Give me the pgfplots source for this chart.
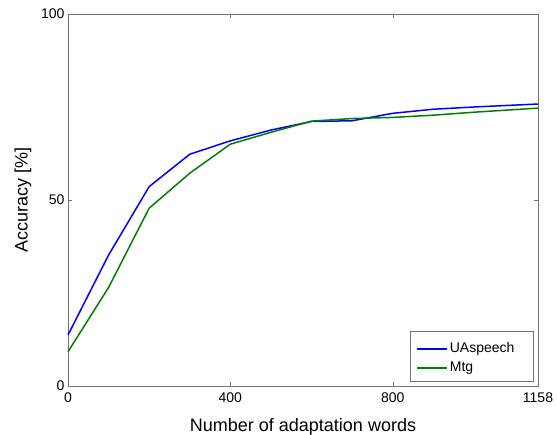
\documentclass[border=0pt]{standalone}
\usepackage{pgfplots}
\pgfplotsset{compat=1.18}
\usepackage{fontspec}
\setmainfont{Liberation Sans}
\definecolor{mgreen}{rgb}{0,0.5,0}
\begin{document}
\begin{tikzpicture}
\path[use as bounding box] (-68pt,-48pt) rectangle (489pt,386pt);
\begin{axis}[scale only axis,width=470pt,height=372pt,
  xmin=0,xmax=1158,ymin=0,ymax=100,
  xtick={0,400,800,1158},ytick={0,50,100},
  tick align=inside,major tick length=4pt,
  axis line style={black!55},tick style={black!55},
  tick label style={font=\fontsize{14}{16}\selectfont},
  /pgf/number format/assume math mode=true,
  /pgf/number format/1000 sep={},
  xticklabel style={yshift=-3pt},
  xlabel={Number of adaptation words},ylabel={Accuracy [\%]},
  label style={font=\fontsize{18}{20}\selectfont},
  xlabel style={yshift=-9pt},ylabel style={yshift=3pt},
  clip=false]
\addplot[draw=blue,line width=1.5pt] coordinates {(0,13.7) (100,35.2) (200,53.6) (300,62.3) (400,65.9) (500,68.8) (600,71.1) (700,71.3) (800,73.3) (900,74.4) (1000,75.0) (1158,75.8)};
\addplot[draw=mgreen,line width=1.5pt] coordinates {(0,9.2) (100,26.5) (200,47.8) (300,57.2) (400,65.0) (500,68.2) (600,71.2) (700,71.9) (800,72.2) (900,72.8) (1000,73.6) (1158,74.7)};
% legend box
\draw[black!55,fill=white] (rel axis cs:0.728,0.0134) rectangle (rel axis cs:0.989,0.148);
\draw[blue,line width=1.3pt] (rel axis cs:0.7426,0.0995) -- (rel axis cs:0.806,0.0995);
\node[anchor=west,inner sep=0pt,font=\fontsize{14}{16}\selectfont] at (rel axis cs:0.812,0.0995) {UAspeech};
\draw[mgreen,line width=1.3pt] (rel axis cs:0.7426,0.0484) -- (rel axis cs:0.806,0.0484);
\node[anchor=west,inner sep=0pt,font=\fontsize{14}{16}\selectfont] at (rel axis cs:0.812,0.0484) {Mtg};
\end{axis}
\end{tikzpicture}
\end{document}
